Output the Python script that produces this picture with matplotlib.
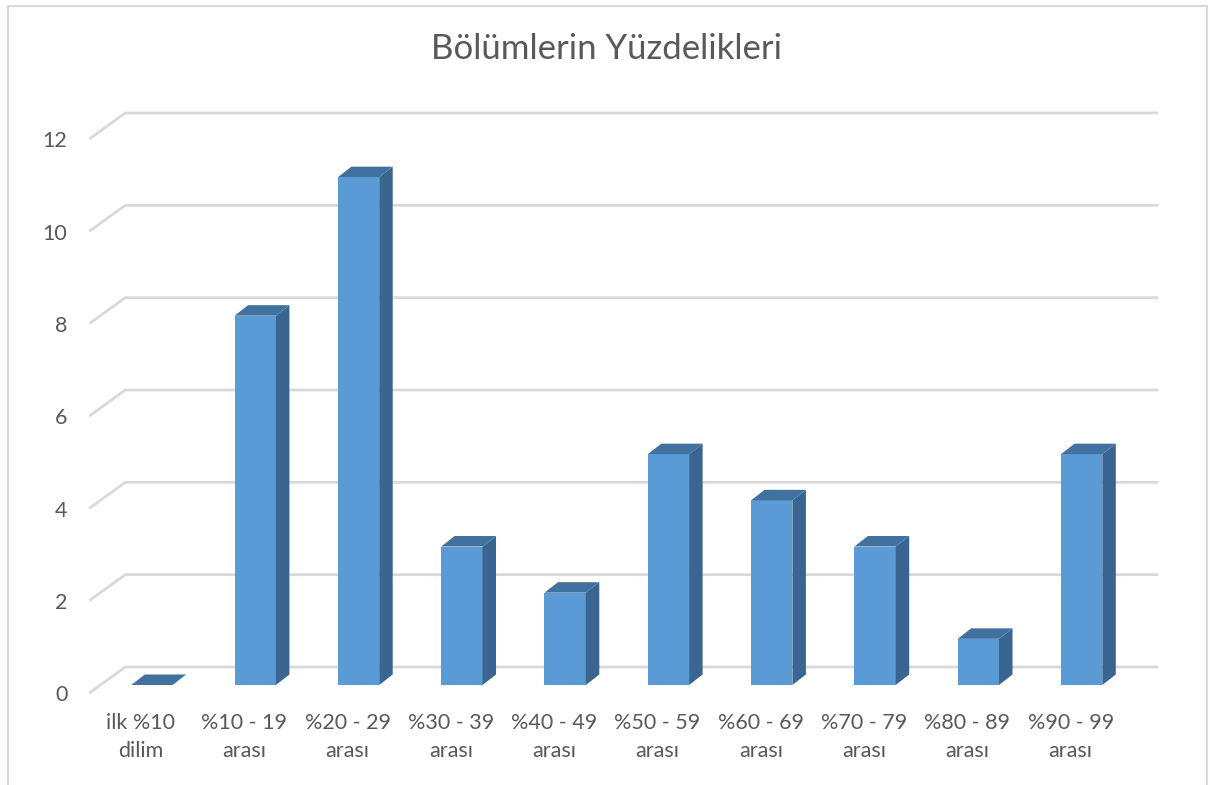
import matplotlib
matplotlib.use("Agg")
import matplotlib.pyplot as plt
from matplotlib.patches import Polygon, Rectangle

# data
categories = ["ilk %10\ndilim", "%10 - 19\narası", "%20 - 29\narası", "%30 - 39\narası",
              "%40 - 49\narası", "%50 - 59\narası", "%60 - 69\narası", "%70 - 79\narası",
              "%80 - 89\narası", "%90 - 99\narası"]
counts = [0, 8, 11, 3, 2, 5, 4, 3, 1, 5]
yticks = [0, 2, 4, 6, 8, 10, 12]
title = "Bölümlerin Yüzdelikleri"

FONT = "Lato"
TXT = "#595959"
GRID = "#D9D9D9"
FRONT, SIDE, TOP = "#5B9BD5", "#3A6590", "#41729F"

W, H = 1210, 785
fig = plt.figure(figsize=(W / 100, H / 100), dpi=100)
fig.patch.set_facecolor("white")

# axes span = plane of the bar fronts
left, right, bottom, top = 100.3, 1133.3, 685, 131
ax = fig.add_axes([left / W, (H - bottom) / H, (right - left) / W, (bottom - top) / H])
ax.set_xlim(-0.5, len(categories) - 0.5)
ax.set_ylim(0, 12)
ax.axis("off")

px_cat = (right - left) / len(categories)
px_val = (bottom - top) / 12.0

# depth offsets (pixels -> data units)
fdx, fdy = -11 / px_cat, -8 / px_val      # floor front edge
bdx, bdy = 25 / px_cat, 18 / px_val       # back wall
cdx, cdy = 13.5 / px_cat, 10.5 / px_val   # bar depth
bw = 0.4

x0, x1 = -0.5, len(categories) - 0.5
for v in yticks:
    ax.plot([x0 + fdx, x0 + bdx, x1 + bdx], [v + fdy, v + bdy, v + bdy],
            color=GRID, lw=2, clip_on=False, zorder=1, solid_capstyle="butt")
    ax.text(x0 + fdx - 22 / px_cat, v + fdy - 0.05, str(v), ha="right", va="center",
            fontsize=15.5, color=TXT, family=FONT)

for i, c in enumerate(counts):
    l, r = i - bw / 2, i + bw / 2
    if c > 0:
        ax.add_patch(Polygon([(l, 0), (r, 0), (r, c), (l, c)], closed=True,
                             fc=FRONT, ec="none", zorder=3, clip_on=False))
        ax.add_patch(Polygon([(r, 0), (r + cdx, cdy), (r + cdx, c + cdy), (r, c)],
                             closed=True, fc=SIDE, ec="none", zorder=3, clip_on=False))
    ax.add_patch(Polygon([(l, c), (r, c), (r + cdx, c + cdy), (l + cdx, c + cdy)],
                         closed=True, fc=TOP, ec="none", zorder=3, clip_on=False))
    ax.text(i + fdx, -0.6, categories[i], ha="center", va="top", fontsize=15.5,
            color=TXT, family=FONT, linespacing=1.5)

fig.text(607 / W, 1 - 49 / H, title, ha="center", va="center", fontsize=25,
         color=TXT, family=FONT)

fig.add_artist(Rectangle((8 / W, -0.02), 1199 / W, 1.02 - 6 / H, transform=fig.transFigure,
                         fill=False, ec="#D9D9D9", lw=1.5))

fig.savefig("out.png", dpi=100)
